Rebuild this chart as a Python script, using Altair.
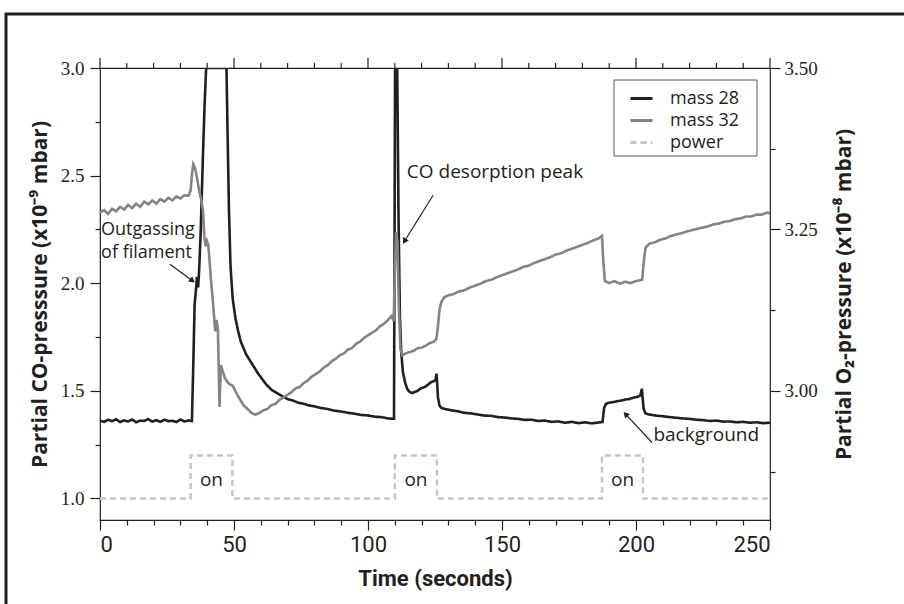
import altair as alt
import pandas as pd

# ---------------- data ----------------
M28_T = [0, 1.5, 3, 4.5, 6, 7.5, 9, 10.5, 12, 13.5, 15, 16.5, 18, 19.5, 21, 22.5, 24, 25.5, 27, 28.5, 30, 31.5, 33, 34.3,
         34.8, 35.3, 35.8, 36.2, 36.6, 37.0, 37.6, 38.3, 39.0, 39.6, 47.2, 47.6, 48.1, 48.7, 49.5, 50.5, 51.5, 52.5,
         53.5, 54.5, 56, 57.5, 59, 60.5, 62, 64, 66, 68, 70, 72, 74, 76, 78, 80, 82.5, 85, 87.5, 90, 92.5, 95, 97.5,
         100, 102.5, 105, 107.5, 109.7,
         110.1, 110.9, 111.4, 111.9, 112.4, 113.0, 113.8, 114.6, 115.5, 116.5, 117.5, 118.5, 119.5, 120.5, 121.5,
         122.5, 123.5, 124.5, 125.2, 125.6, 126.1, 126.7, 127.5, 129, 131, 133.5, 136, 138.5, 141, 143.5, 146, 148.5,
         151, 153.5, 156, 158.5, 161, 163.5, 166, 168.5, 171, 173.5, 176, 178.5, 181, 183.5, 186, 187.5,
         188.1, 188.8, 190, 191.5, 193, 194.5, 196, 197.5, 199, 200.5, 201.6, 202.2, 202.8, 203.5, 205, 207.5, 210,
         212.5, 215, 217.5, 220, 222.5, 225, 227.5, 230, 232.5, 235, 237.5, 240, 242.5, 245, 247.5, 250]
M28_V = [1.362, 1.356, 1.366, 1.359, 1.368, 1.355, 1.363, 1.358, 1.367, 1.354, 1.362, 1.360, 1.369, 1.357, 1.364,
         1.356, 1.366, 1.359, 1.361, 1.355, 1.367, 1.358, 1.363, 1.360,
         1.62, 1.90, 1.97, 2.03, 1.98, 2.06, 2.25, 2.55, 2.82, 3.0, 3.0, 2.70, 2.35, 2.08, 1.93, 1.84, 1.78, 1.73,
         1.70, 1.67, 1.64, 1.61, 1.58, 1.555, 1.53, 1.505, 1.49, 1.475, 1.462, 1.455, 1.445, 1.440, 1.432, 1.428,
         1.420, 1.416, 1.408, 1.404, 1.398, 1.394, 1.388, 1.386, 1.380, 1.378, 1.372, 1.370,
         3.0, 3.0, 2.30, 1.85, 1.68, 1.59, 1.54, 1.51, 1.495, 1.49, 1.495, 1.50, 1.51, 1.515, 1.52,
         1.53, 1.54, 1.545, 1.55, 1.58, 1.47, 1.43, 1.42, 1.415, 1.41, 1.405, 1.398, 1.395, 1.39, 1.385, 1.384, 1.378,
         1.376, 1.372, 1.370, 1.365, 1.366, 1.360, 1.362, 1.356, 1.358, 1.352, 1.356, 1.350, 1.354, 1.349, 1.353, 1.355,
         1.42, 1.44, 1.445, 1.448, 1.452, 1.455, 1.46, 1.462, 1.468, 1.472, 1.478, 1.51, 1.42, 1.395, 1.39, 1.385,
         1.382, 1.378, 1.375, 1.372, 1.370, 1.366, 1.364, 1.360, 1.362, 1.357, 1.358, 1.354, 1.356, 1.352, 1.354,
         1.350, 1.352]

M32_T = [0, 1.5, 3, 4.5, 6, 7.5, 9, 10.5, 12, 13.5, 15, 16.5, 18, 19.5, 21, 22.5, 24, 25.5, 27, 28.5, 30, 31.5, 33,
         33.8, 34.3, 34.8, 35.4, 36.2, 37.0, 37.8, 38.4, 38.9, 39.4, 39.9, 40.4, 40.9, 41.4, 42.2, 43.0, 43.5, 44.0,
         44.6, 45.1, 45.8, 46.6, 47.5, 48.5, 49.5, 50.5, 51.5, 52.5, 53.5, 55, 56.5, 58, 59.5, 61, 62.5, 64, 65.5,
         67, 68.5, 70, 71.5, 73, 74.5, 76, 77.5, 79, 80.5, 82, 83.5, 85, 86.5, 88, 89.5, 91, 92.5, 94, 95.5, 97,
         98.5, 100, 101.5, 103, 104.5, 106, 107.5, 108.8, 109.6, 110.1, 110.5, 111.0, 111.5, 112.1, 112.8, 114,
         115.5, 117, 118.5, 120, 121.5, 123, 124.5, 125.5, 126.1, 126.7, 127.4, 128.5, 130, 132, 134, 136, 138, 140,
         142, 144, 146, 148, 150, 152, 154, 156, 158, 160, 162, 164, 166, 168, 170, 172, 174, 176, 178, 180, 182,
         184, 186, 187.3, 187.8, 188.4, 190, 192, 194, 196, 198, 200, 202.3, 202.9, 203.6, 205, 207, 209, 211, 213,
         215, 217, 219, 221, 223, 225, 227, 229, 231, 233, 235, 237, 239, 241, 243, 245, 247, 249, 250]
M32_V = [3.276, 3.280, 3.274, 3.282, 3.278, 3.285, 3.281, 3.288, 3.283, 3.290, 3.285, 3.293, 3.289, 3.295, 3.290,
         3.297, 3.293, 3.299, 3.295, 3.301, 3.298, 3.303, 3.302,
         3.310, 3.335, 3.351, 3.346, 3.330, 3.310, 3.295, 3.280, 3.240, 3.224, 3.232, 3.226, 3.200, 3.172, 3.135,
         3.092, 3.110, 3.095, 2.975, 3.040, 3.030, 3.020, 3.014, 3.010, 3.008, 3.000, 2.992, 2.985, 2.978, 2.972,
         2.966, 2.963, 2.966, 2.970, 2.972, 2.978, 2.980, 2.986, 2.990, 2.994, 2.998, 3.004, 3.006, 3.012, 3.016,
         3.022, 3.026, 3.030, 3.036, 3.040, 3.046, 3.050, 3.055, 3.058, 3.064, 3.066, 3.073, 3.076, 3.082, 3.086,
         3.090, 3.094, 3.100, 3.104, 3.110, 3.116, 3.108, 3.200, 3.246, 3.230, 3.130, 3.065, 3.055, 3.058, 3.060,
         3.062, 3.066, 3.067, 3.070, 3.074, 3.076, 3.080, 3.100, 3.126, 3.138, 3.145, 3.148, 3.150, 3.154, 3.156,
         3.160, 3.163, 3.166, 3.170, 3.172, 3.176, 3.179, 3.182, 3.185, 3.188, 3.192, 3.194, 3.198, 3.201, 3.204,
         3.207, 3.211, 3.213, 3.217, 3.220, 3.223, 3.226, 3.229, 3.233, 3.236, 3.240, 3.200, 3.170, 3.167, 3.170,
         3.166, 3.169, 3.167, 3.170, 3.172, 3.200, 3.222, 3.228, 3.230, 3.234, 3.236, 3.240, 3.242, 3.244, 3.247,
         3.249, 3.251, 3.253, 3.255, 3.258, 3.259, 3.262, 3.263, 3.266, 3.267, 3.270, 3.270, 3.273, 3.273, 3.276,
         3.275]

PWR_T = [0, 33.8, 33.8, 49.4, 49.4, 110.0, 110.0, 125.7, 125.7, 187.3, 187.3, 202.6, 202.6, 250]
PWR_V = [1.0, 1.0, 1.2, 1.2, 1.0, 1.0, 1.2, 1.2, 1.0, 1.0, 1.2, 1.2, 1.0, 1.0]

SERIES = ["mass 28", "mass 32", "power"]
COLORS = ["#231f20", "#848484", "#c6c6c6"]
DASHES = [[1, 0], [1, 0], [6, 4]]

X_TICKS = list(range(0, 251, 10))
X_MAJOR = list(range(0, 251, 50))
X_MINOR = [t for t in X_TICKS if t % 50 != 0]
LEFT_TICKS = [1.0, 1.25, 1.5, 1.75, 2.0, 2.25, 2.5, 2.75, 3.0]
RIGHT_TICKS = [2.875, 3.0, 3.125, 3.25, 3.375, 3.5]

ON_T = [41.6, 117.9, 195.0]
ON_V = [1.088, 1.088, 1.088]

NOTE_TEXT = ["Outgassing", "of filament", "CO desorption peak", "background"]
NOTE_T = [0.4, 0.4, 114.5, 206.5]
NOTE_V = [2.247, 2.140, 2.516, 1.295]

ARROW_T = [26.1, 124.3, 206.0]
ARROW_V = [2.088, 2.409, 1.260]
ARROW_T2 = [34.5, 113.6, 196.1]
ARROW_V2 = [2.012, 2.195, 1.392]
ARROW_ANGLE = [36.5, 121.7, 227.0]

# ---------------- styling ----------------
INK = "#231f20"
SANS = "Open Sans"
COND = "Roboto"
SERIF = "Liberation Serif"

xs = alt.Scale(domain=[0, 250], nice=False, zero=False)
ly = alt.Scale(domain=[0.9, 3.0], nice=False, zero=False)
ry = alt.Scale(domain=[2.8, 3.5], nice=False, zero=False)
cscale = alt.Scale(domain=SERIES, range=COLORS)
dscale = alt.Scale(domain=SERIES, range=DASHES)

m28 = pd.DataFrame({"t": M28_T, "v": M28_V, "series": "mass 28"})
m32 = pd.DataFrame({"t": M32_T, "v": M32_V, "series": "mass 32"})
pwr = pd.DataFrame({"t": PWR_T, "v": PWR_V, "series": "power", "i": list(range(len(PWR_T)))})
one = pd.DataFrame({"a": [0]})

legend = alt.Legend(title=None, orient="none", legendX=529, legendY=18, symbolType="stroke",
                    symbolSize=484, symbolStrokeWidth=3, labelFont=SANS, labelFontSize=18,
                    labelColor=INK, labelOffset=16, rowPadding=0, padding=0)

x_axis = alt.Axis(values=X_TICKS, labelExpr="datum.value % 50 === 0 ? datum.label : ''",
                  tickSize={"condition": {"test": "datum.value % 50 === 0", "value": 10}, "value": 5},
                  tickColor=INK, tickWidth=1.2, domain=False, grid=False,
                  labelFont=COND, labelFontSize=22, labelColor=INK, labelPadding=4,
                  title="Time (seconds)", titleFont=COND, titleFontSize=22, titleFontWeight="bold",
                  titleColor=INK, titleX=335, titleY=65, titleBaseline="alphabetic")

left_test = "abs(datum.value*2 - round(datum.value*2)) < 0.01"
left_axis = alt.Axis(values=LEFT_TICKS,
                     labelExpr=f"{left_test} ? format(datum.value, '.1f') : ''",
                     tickSize={"condition": {"test": left_test, "value": 10}, "value": 5},
                     tickColor=INK, tickWidth=1.2, domain=False, grid=False,
                     labelFont=SERIF, labelFontSize=19, labelColor=INK, labelPadding=6,
                     title="Partial CO-presssure (x10⁻⁹ mbar)", titleFont=SANS, titleFontSize=21,
                     titleFontWeight="bold", titleColor=INK, titleAngle=270, titleX=-54, titleY=226,
                     titleBaseline="alphabetic", titleAlign="center")

right_test = "abs(datum.value*4 - round(datum.value*4)) < 0.01"
right_axis = alt.Axis(orient="right", values=RIGHT_TICKS,
                      labelExpr=f"{right_test} ? format(datum.value, '.2f') : ''",
                      tickSize={"condition": {"test": right_test, "value": 10}, "value": 5},
                      tickColor=INK, tickWidth=1.2, domain=False, grid=False,
                      labelFont=SERIF, labelFontSize=19, labelColor=INK, labelPadding=4,
                      title="Partial O₂-pressure (x10⁻⁸ mbar)", titleFont=SANS, titleFontSize=21,
                      titleFontWeight="bold", titleColor=INK, titleAngle=270, titleX=80, titleY=226,
                      titleBaseline="alphabetic", titleAlign="center")

X = alt.X("t:Q", scale=xs, axis=x_axis)
YL = alt.Y("v:Q", scale=ly, axis=left_axis)

# decorative outer frame (top and left edges)
frame_v = alt.Chart(one).mark_rule(color=INK, strokeWidth=3, clip=False).encode(
    x=alt.value(-94), y=alt.value(-55), y2=alt.value(540))
frame_h = alt.Chart(one).mark_rule(color=INK, strokeWidth=3, clip=False).encode(
    x=alt.value(-95), x2=alt.value(810), y=alt.value(-54))

# top axis ticks
top_major = alt.Chart(pd.DataFrame({"t": X_MAJOR})).mark_rule(color=INK, strokeWidth=1.2, clip=False).encode(
    x=X, y=alt.value(0), y2=alt.value(-10))
top_minor = alt.Chart(pd.DataFrame({"t": X_MINOR})).mark_rule(color=INK, strokeWidth=1.2, clip=False).encode(
    x=X, y=alt.value(0), y2=alt.value(-5))

# legend box
legend_box = alt.Chart(one).mark_rect(fill="white", stroke="#555555", strokeWidth=1).encode(
    x=alt.value(514), x2=alt.value(657), y=alt.value(12), y2=alt.value(88))

power_line = alt.Chart(pwr).mark_line(strokeWidth=2.5, clip=True).encode(
    x=X, y=YL,
    order=alt.Order("i:Q"),
    color=alt.Color("series:N", scale=cscale, legend=legend),
    strokeDash=alt.StrokeDash("series:N", scale=dscale, legend=legend),
)

m28_line = alt.Chart(m28).mark_line(strokeWidth=2.6, clip=True).encode(
    x=X, y=YL,
    color=alt.Color("series:N", scale=cscale, legend=legend),
    strokeDash=alt.StrokeDash("series:N", scale=dscale, legend=legend),
)

on_text = alt.Chart(pd.DataFrame({"t": ON_T, "v": ON_V, "s": ["on"] * 3})).mark_text(
    font=SANS, fontSize=19, color=INK, align="center", baseline="middle").encode(
    x=X, y=YL, text="s:N")

notes_df = pd.DataFrame({"t": NOTE_T, "v": NOTE_V, "s": NOTE_TEXT, "k": [0, 1, 2, 3]})
notes_out = alt.Chart(notes_df[notes_df.k < 2]).mark_text(
    font=SANS, fontSize=18, color=INK, align="left", baseline="middle").encode(
    x=X, y=YL, text="s:N")
notes_other = alt.Chart(notes_df[notes_df.k >= 2]).mark_text(
    font=SANS, fontSize=19, color=INK, align="left", baseline="middle").encode(
    x=X, y=YL, text="s:N")

arr = pd.DataFrame({"t": ARROW_T, "v": ARROW_V, "t2": ARROW_T2, "v2": ARROW_V2, "a": ARROW_ANGLE})
arrow_shaft = alt.Chart(arr).mark_rule(color=INK, strokeWidth=1.2).encode(
    x=X, y=YL, x2="t2:Q", y2="v2:Q")
arrow_head = alt.Chart(arr).mark_point(shape="triangle-right", filled=True, color=INK, size=45, opacity=1).encode(
    x=alt.X("t2:Q", scale=xs, axis=x_axis), y=alt.Y("v2:Q", scale=ly, axis=left_axis),
    angle=alt.Angle("a:Q", scale=None))

left_group = alt.layer(frame_v, frame_h, top_major, top_minor, legend_box, power_line, m28_line,
                       on_text, notes_out, notes_other, arrow_shaft, arrow_head)

m32_line = alt.Chart(m32).mark_line(strokeWidth=2.6, clip=True).encode(
    x=X,
    y=alt.Y("v:Q", scale=ry, axis=right_axis),
    color=alt.Color("series:N", scale=cscale, legend=legend),
    strokeDash=alt.StrokeDash("series:N", scale=dscale, legend=legend),
)

chart = alt.layer(left_group, m32_line).resolve_scale(y="independent").properties(
    width=670, height=452,
    padding={"left": 100, "top": 68, "right": 134, "bottom": 84},
    autosize=alt.AutoSizeParams(type="none"),
    background="white",
).configure_view(stroke=INK, strokeWidth=1.2)

chart.save("out.html", embed_options={"renderer": "svg", "actions": False})
